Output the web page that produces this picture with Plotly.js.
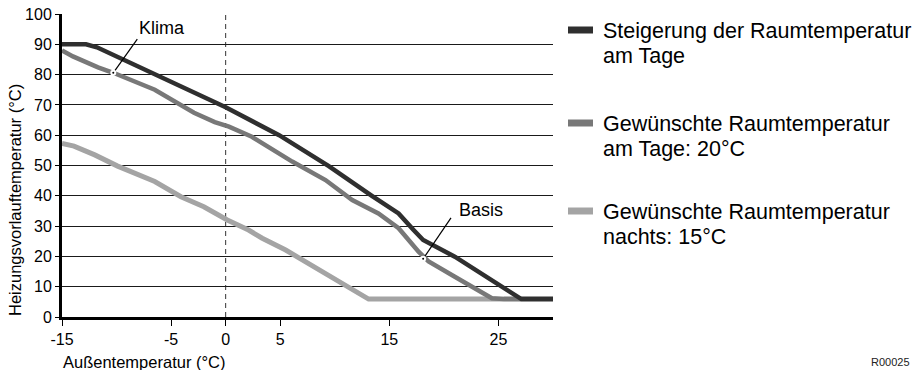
<!DOCTYPE html>
<html><head><meta charset="utf-8">
<script src="https://cdn.plot.ly/plotly-3.0.1.min.js"></script>
<style>html,body{margin:0;padding:0;background:#fff;overflow:hidden}</style>
</head><body><div id="chart" style="width:912px;height:370px"></div>
<script>
// ---- data ----
const seriesNames = [
  ["Steigerung der Raumtemperatur", "am Tage"],
  ["Gewünschte Raumtemperatur", "am Tage: 20°C"],
  ["Gewünschte Raumtemperatur", "nachts: 15°C"]
];
const darkX = [-15, -12.8, -11.8, 0, 4.9, 9.45, 13.4, 15.85, 17.2, 18.1, 21, 24.1, 27.1, 30];
const darkY = [90, 90, 89, 69.2, 60, 49.8, 40, 34.2, 28.8, 25.4, 19.9, 12.8, 5.9, 5.9];
const midX = [-15, -14, -11.7, -10.3, -6.5, -2.9, -1, 0.3, 2.4, 6.1, 9.15, 11.6, 14, 15.85, 17.7, 18.6, 21, 23.5, 24.4, 25.5, 30];
const midY = [88, 86, 82.4, 80.6, 75, 67.4, 64.3, 62.8, 59.5, 51.3, 45.2, 38.6, 34.2, 29.3, 21.5, 18.3, 13.3, 7.8, 6.2, 5.9, 5.9];
const lightX = [-15, -13.9, -12, -9.9, -6.5, -5.6, -4.1, -2, 0.15, 2.1, 3.35, 5.5, 8.85, 11.3, 13.1, 30];
const lightY = [57.3, 56.4, 53.5, 49.8, 44.7, 42.8, 39.7, 36.4, 32, 28.7, 26, 22.1, 15, 9.8, 5.9, 5.9];
const xTickVals = [-15, -5, 0, 5, 15, 25];
const yTickVals = [0, 10, 20, 30, 40, 50, 60, 70, 80, 90, 100];
const calloutLabels = ["Klima", "Basis"];
const calloutDotX = [-10.3, 18.1];
const calloutDotY = [80.6, 19.2];
const xTitle = "Außentemperatur (°C)";
const yTitle = "Heizungsvorlauftemperatur (°C)";
const figureCode = "R00025";

// ---- layout helpers ----
const W = 912, H = 370, ML = 62, MR = 359, MT = 14, MB = 53;
const PW = W - ML - MR, PH = H - MT - MB;
const px = v => (v - ML) / PW;
const py = v => (H - MB - v) / PH;
const FONT = "Liberation Sans, Arial, Helvetica, sans-serif";
const colors = ["#2f2f2f", "#787878", "#a4a4a4"];

// leader line ends (data coords) for the two callouts
const leaderEndX = [-8.1, 20.65];
const leaderEndY = [91.7, 32.7];

const traces = [
  {x: lightX, y: lightY, mode: "lines", line: {color: colors[2], width: 5}, name: seriesNames[2].join(" "), hoverinfo: "skip"},
  {x: midX, y: midY, mode: "lines", line: {color: colors[1], width: 4.5}, name: seriesNames[1].join(" "), hoverinfo: "skip"},
  {x: darkX, y: darkY, mode: "lines", line: {color: colors[0], width: 4.5}, name: seriesNames[0].join(" "), hoverinfo: "skip"},
  {x: [calloutDotX[0], leaderEndX[0]], y: [calloutDotY[0], leaderEndY[0]], mode: "lines", line: {color: "#000", width: 1.2}, hoverinfo: "skip"},
  {x: [calloutDotX[1], leaderEndX[1]], y: [calloutDotY[1], leaderEndY[1]], mode: "lines", line: {color: "#000", width: 1.2}, hoverinfo: "skip"},
  {x: calloutDotX, y: calloutDotY, mode: "markers", marker: {color: "#000", size: 4, line: {color: "#fff", width: 2}}, hoverinfo: "skip"}
];

const shapes = [
  {type: "line", xref: "x", yref: "y", x0: 0, x1: 0, y0: 0, y1: 100, layer: "below", line: {color: "#333", width: 1, dash: "5px,4px"}}
];

const annotations = [
  {xref: "x", yref: "y", x: -5.8, y: 95.3, text: calloutLabels[0], showarrow: false, font: {family: FONT, size: 18, color: "#000"}},
  {xref: "x", yref: "y", x: 23.4, y: 35.4, text: calloutLabels[1], showarrow: false, font: {family: FONT, size: 18, color: "#000"}},
  {xref: "paper", yref: "paper", x: px(61), y: py(362), xanchor: "left", yanchor: "middle", text: xTitle, showarrow: false, font: {family: FONT, size: 16.5, color: "#000"}},
  {xref: "paper", yref: "paper", x: px(15), y: py(200), xanchor: "center", yanchor: "middle", textangle: -90, text: yTitle, showarrow: false, font: {family: FONT, size: 16.5, color: "#000"}},
  {xref: "paper", yref: "paper", x: px(912), y: py(370), xanchor: "right", yanchor: "bottom", text: figureCode, showarrow: false, font: {family: FONT, size: 11, color: "#222"}}
];

// custom legend
const legendTop = [30, 123, 211];
const lineGap = 24.5;
[0, 1, 2].forEach((i, k) => {
  const yc = legendTop[k];
  shapes.push({type: "rect", xref: "paper", yref: "paper", x0: px(568), x1: px(593), y0: py(yc + 3.5), y1: py(yc - 3.5), fillcolor: colors[i], line: {width: 0}});
  seriesNames[i].forEach((t, j) => {
    annotations.push({xref: "paper", yref: "paper", x: px(601), y: py(yc + 1 + j * lineGap), xanchor: "left", yanchor: "middle", text: t, showarrow: false, font: {family: FONT, size: 21.5, color: "#000"}});
  });
});

const layout = {
  width: W, height: H,
  margin: {l: ML, r: MR, t: MT, b: MB, pad: 0},
  paper_bgcolor: "#fff", plot_bgcolor: "#fff",
  showlegend: false,
  font: {family: FONT, size: 16, color: "#000"},
  xaxis: {range: [-15, 30], tickmode: "array", tickvals: xTickVals, ticktext: xTickVals.map(String),
          ticks: "outside", ticklen: 6, tickwidth: 1, tickcolor: "#000",
          showline: true, linewidth: 3, linecolor: "#000", showgrid: false, zeroline: false,
          tickfont: {family: FONT, size: 16, color: "#000"}, fixedrange: true},
  yaxis: {range: [0, 100], tickmode: "array", tickvals: yTickVals, ticktext: yTickVals.map(String),
          ticks: "outside", ticklen: 4, tickwidth: 1, tickcolor: "#000",
          showline: true, linewidth: 3, linecolor: "#000", showgrid: true, gridcolor: "#1a1a1a", gridwidth: 1,
          zeroline: false, tickfont: {family: FONT, size: 16, color: "#000"}, fixedrange: true},
  shapes: shapes,
  annotations: annotations
};

Plotly.newPlot("chart", traces, layout, {displayModeBar: false, staticPlot: true});
</script>
</body></html>
